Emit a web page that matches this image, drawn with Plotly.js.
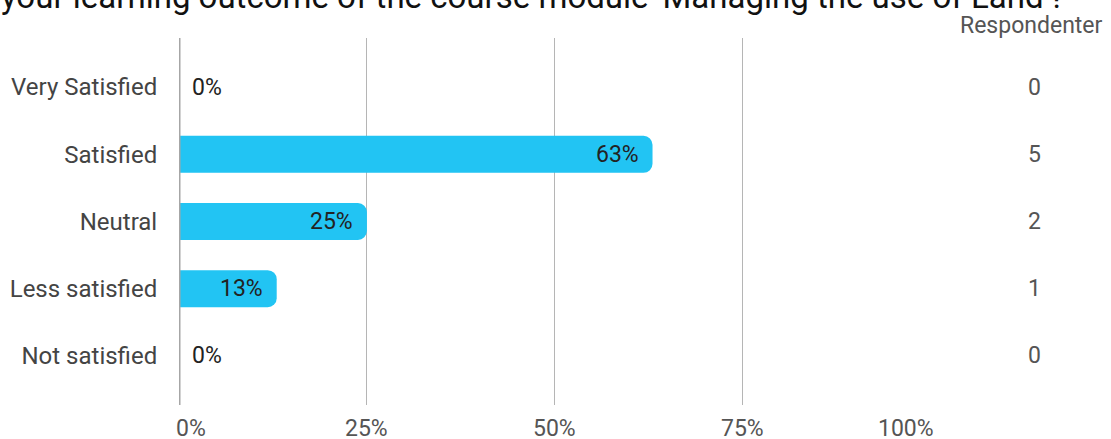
<!DOCTYPE html>
<html><head><meta charset="utf-8">
<script src="https://cdn.plot.ly/plotly-3.0.1.min.js"></script>
<style>html,body{margin:0;padding:0;background:#fff;}#chart{width:1111px;height:439px;}</style>
</head><body><div id="chart"></div>
<script>
const categories = ["Very Satisfied", "Satisfied", "Neutral", "Less satisfied", "Not satisfied"];
const shares = [0, 0.63, 0.25, 0.13, 0];
const shareLabels = ["0%", "63%", "25%", "13%", "0%"];
const counts = [0, 5, 2, 1, 0];
const xTickVals = [0, 0.25, 0.5, 0.75, 1];
const xTickText = ["0%", "25%", "50%", "75%", "100%"];
const titleText = "your learning outcome of the course module 'Managing the use of Land'?";
const columnHeader = "Respondenter";

const FONT = "Roboto, 'Noto Sans', sans-serif";

const annotations = [];
categories.forEach((c, i) => {
  const v = shares[i];
  annotations.push({
    x: v, y: c, xref: 'x', yref: 'y', text: shareLabels[i], showarrow: false,
    xanchor: v > 0 ? 'right' : 'left', xshift: v > 0 ? -12 : 11,
    font: {family: FONT, size: 23, color: '#222'}
  });
  annotations.push({
    x: 1.137, y: c, xref: 'paper', yref: 'y', text: String(counts[i]), showarrow: false,
    xanchor: 'center', font: {family: FONT, size: 23, color: '#555'}
  });
});
xTickVals.forEach((v, i) => {
  const last = i === xTickVals.length - 1;
  annotations.push({
    x: v, y: -0.064, xref: 'x', yref: 'paper', yanchor: 'middle', text: xTickText[i], showarrow: false,
    xanchor: i === 0 ? 'left' : (last ? 'right' : 'center'), xshift: i === 0 ? -5 : (last ? 5 : 0),
    font: {family: FONT, size: 23, color: '#555'}
  });
});
annotations.push({x: 1.133, y: 1.035, xref: 'paper', yref: 'paper', xanchor: 'center', yanchor: 'middle',
  text: columnHeader, showarrow: false, font: {family: FONT, size: 23, color: '#555'}});
annotations.push({x: -0.239, y: 1.112, xref: 'paper', yref: 'paper', xanchor: 'left', yanchor: 'middle',
  text: titleText, showarrow: false, font: {family: FONT, size: 33, color: '#111'}});

const trace = {
  type: 'bar', orientation: 'h', x: shares, y: categories,
  marker: {color: '#22C4F3', cornerradius: 9},
  hoverinfo: 'none'
};

const layout = {
  width: 1111, height: 439,
  margin: {l: 179, r: 180, t: 38, b: 34},
  paper_bgcolor: '#fff', plot_bgcolor: '#fff',
  showlegend: false,
  bargap: 0.45,
  xaxis: {
    range: [0, 1.0005], tickvals: xTickVals, showticklabels: false,
    showgrid: true, gridcolor: '#b5b5b5', gridwidth: 1,
    zeroline: false, showline: false, fixedrange: true
  },
  yaxis: {
    categoryorder: 'array', categoryarray: categories,
    range: [4.73, -0.73], autorange: false,
    showgrid: false, zeroline: false,
    showline: false,
    ticks: 'outside', ticklen: 16, tickcolor: 'rgba(0,0,0,0)',
    tickfont: {family: FONT, size: 24, color: '#444'}, fixedrange: true
  },
  shapes: [{type: 'line', xref: 'x', yref: 'paper', x0: 0, x1: 0, y0: 0, y1: 1,
    line: {color: '#a6a6a6', width: 3}, layer: 'above'}],
  annotations: annotations
};

Plotly.newPlot('chart', [trace], layout, {displayModeBar: false, staticPlot: true});
</script></body></html>
